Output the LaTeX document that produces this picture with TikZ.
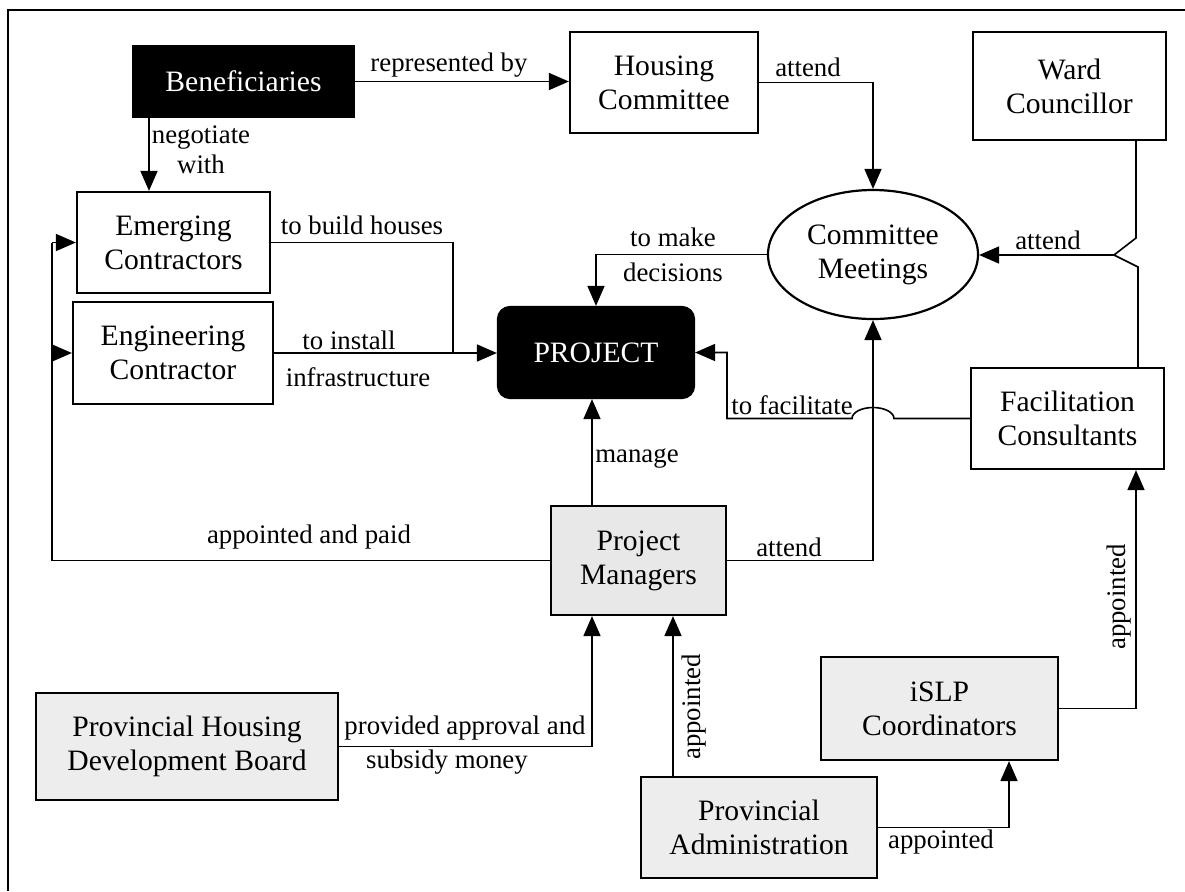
\documentclass[tikz,border=0pt]{standalone}
\usepackage{fontspec}
\setmainfont{Liberation Serif}
\usetikzlibrary{arrows.meta, shapes.geometric, calc}
\newcommand{\boxtext}{\fontsize{14.8}{17}\selectfont}
\newcommand{\linktext}{\fontsize{13.4}{16}\selectfont}

\begin{document}
\begin{tikzpicture}[x=0.5pt, y=-0.5pt,
  box/.style={draw, line width=1.1pt, align=center, inner sep=0pt, font=\boxtext},
  darkbox/.style={box, fill=black, text=white},
  greybox/.style={box, fill=black!7},
  link/.style={line width=0.8pt},
  arr/.style={link, -{Triangle[length=10pt, width=8.5pt]}},
  lbl/.style={font=\linktext, inner sep=0pt, align=center}]
\useasboundingbox (0,0) rectangle (1185,891);

% Frame, top and left only
\draw[line width=1pt] (8,891) -- (8,10) -- (1185,10);

% Boxes
\node[darkbox, minimum width=110.5pt, minimum height=35.5pt] (ben) at (243.5,81.5) {Beneficiaries};
\node[box, minimum width=94pt, minimum height=50.5pt] (hous) at (664,82.5) {Housing\\Committee};
\node[box, minimum width=96.5pt, minimum height=54pt] (ward) at (1069.5,86) {Ward\\Councillor};
\node[box, minimum width=96.5pt, minimum height=50.5pt] (emerg) at (173.5,242.5) {Emerging\\Contractors};
\node[box, minimum width=100pt, minimum height=51pt] (engin) at (173,353) {Engineering\\Contractor};
\node[box, ellipse, inner sep=0pt, minimum width=105pt, minimum height=64.5pt] (meet) at (873,254.5) {Committee\\Meetings};
\node[darkbox, rounded corners=6pt, minimum width=98pt, minimum height=45.5pt] (proj) at (596,352.5) {PROJECT};
\node[box, minimum width=96.5pt, minimum height=50.5pt] (facil) at (1067.5,418.5) {Facilitation\\Consultants};
\node[box, fill=black!9, minimum width=87.5pt, minimum height=54.5pt] (pm) at (638.5,560.5) {Project\\Managers};
\node[greybox, minimum width=151pt, minimum height=53.5pt] (phdb) at (187,746.5) {Provincial Housing\\Development Board};
\node[greybox, minimum width=118.5pt, minimum height=51.5pt] (islp) at (939.5,708.5) {iSLP\\Coordinators};
\node[greybox, minimum width=118pt, minimum height=50.5pt] (padmin) at (759,827.5) {Provincial\\Administration};

% Bend points of the connectors
\coordinate (negx) at (149,0);
\coordinate (bh) at (453,0);
\coordinate (busx) at (52,0);
\coordinate (mgx) at (592,0);
\coordinate (facx) at (727,0);
\coordinate (pax) at (673,0);
\coordinate (ix) at (1009,0);
\coordinate (apx) at (1136,0);
\coordinate (wbend) at (1136,238);
\coordinate (fbend) at (1138,267);
\coordinate (junc) at (1114,255);

% Beneficiaries
\draw[arr] (ben.east) -- (ben.east -| hous.west);
\draw[arr] (ben.south -| negx) -- (emerg.north -| negx);
\node[lbl] (replbl) at (449,65) {represented by};
\node[lbl, font=\fontsize{13.4}{15}\selectfont] (neglbl) at (201,150) {negotiate\\with};

% Contractors to the project
\draw[link] (emerg.east) -| (bh |- engin.east);
\draw[arr] (engin.east) -- (engin.east -| proj.west);
\node[lbl] (buildlbl) at (362,225) {to build houses};
\node[lbl] (installlbl) at (349,340) {to install};
\node[lbl] (infralbl) at (358,377) {infrastructure};

% Committee meetings
\draw[arr] (hous.east) -| (meet.north);
\draw[arr] (meet.west) -| (proj.north);
\draw[link] (ward.south -| wbend) -- (wbend) -- (junc) -- (fbend) -- (facil.north -| fbend);
\draw[arr] (junc) -- (junc -| meet.east);
\node[lbl] (hattlbl) at (808,67) {attend};
\node[lbl] (makelbl) at (673,237) {to make};
\node[lbl] (declbl) at (673,272) {decisions};
\node[lbl] (wattlbl) at (1048,240) {attend};

% Project managers
\draw[arr] (pm.north -| mgx) -- (proj.south -| mgx);
\draw[link] (pm.west) -- (pm.west -| busx) -- (emerg.west -| busx);
\draw[arr] (emerg.west -| busx) -- (emerg.west);
\draw[arr] (engin.west -| busx) -- (engin.west);
\draw[arr] (pm.east) -| (meet.south);
\node[lbl] (managelbl) at (637,459) {manage};
\node[lbl] (paidlbl) at (309,537) {appointed and paid};
\node[lbl] (pmattlbl) at (789,547) {attend};

% Facilitation, hopping over the attend line
\draw[arr] (facil.west) -- ($(meet.south |- facil.west)+(10.5pt,0)$)
  arc[start angle=0, end angle=180, x radius=10.5pt, y radius=5.5pt]
  -- (facx |- facil.west) -- (facx |- proj.east) -- (proj.east);
\node[lbl] (faclbl) at (792,405) {to facilitate};

% Appointments from below
\draw[arr] (phdb.east) -| (pm.south -| mgx);
\draw[arr] (padmin.north -| pax) -- (pm.south -| pax);
\draw[arr] (padmin.east) -| (islp.south -| ix);
\draw[arr] (islp.east) -| (facil.south -| apx);
\node[lbl] (approvlbl) at (465,728) {provided approval and};
\node[lbl] (subsidylbl) at (447,762) {subsidy money};
\node[lbl, rotate=90] (app1lbl) at (694,707) {appointed};
\node[lbl] (app2lbl) at (941,842) {appointed};
\node[lbl, rotate=90] (app3lbl) at (1119,597) {appointed};
\end{tikzpicture}
\end{document}
